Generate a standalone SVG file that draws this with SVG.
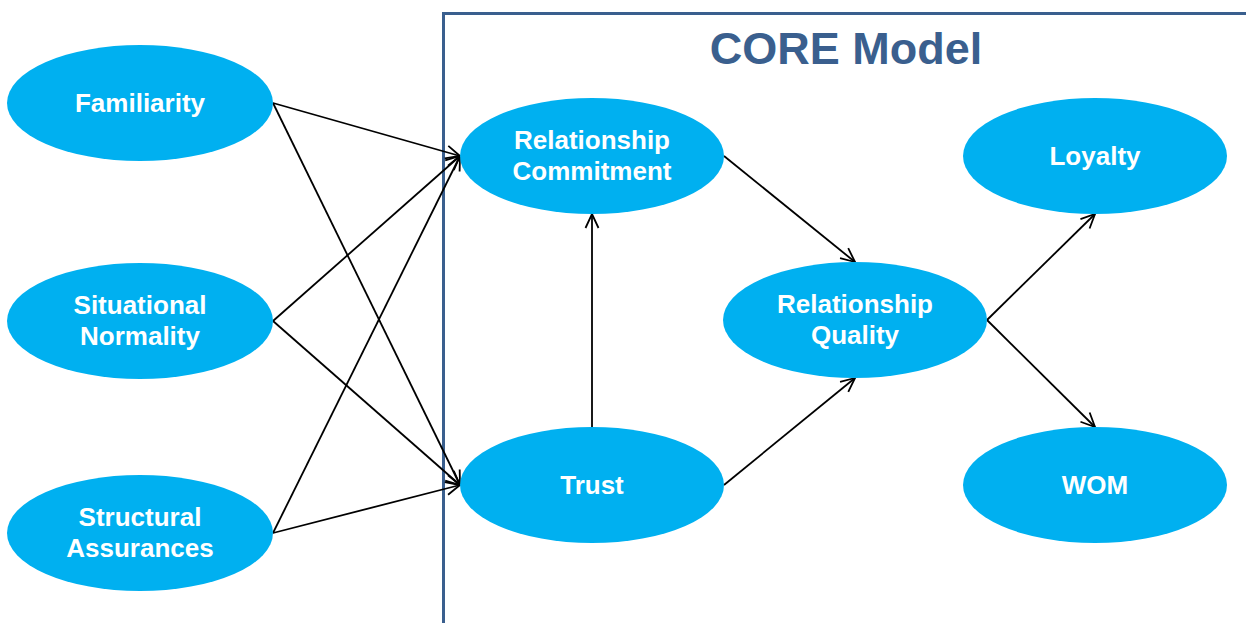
<svg xmlns="http://www.w3.org/2000/svg" width="1246" height="623" viewBox="0 0 1246 623">
  <style>
    .node ellipse { fill: #00B0F0; }
    .node text { fill: #FFFFFF; font-family: "Liberation Sans", Arial, sans-serif; font-weight: bold; font-size: 26px; text-anchor: middle; }
    .edge { stroke: #000000; stroke-width: 1.8; fill: none; marker-end: url(#arrow); }
    .title { fill: #3A5F8E; font-family: "Liberation Sans", Arial, sans-serif; font-weight: bold; font-size: 45px; text-anchor: middle; }
  </style>
  <defs>
    <marker id="arrow" viewBox="0 0 16 16" refX="15" refY="8" markerWidth="16" markerHeight="16" markerUnits="userSpaceOnUse" orient="auto">
      <path d="M1,1.5 L15,8 L1,14.5" fill="none" stroke="#000000" stroke-width="1.8"/>
    </marker>
  </defs>
  <rect width="1246" height="623" fill="#FFFFFF"/>

  <!-- model boundary -->
  <g id="core-box">
    <path d="M443.5,630 L443.5,13.5 L1260,13.5" fill="none" stroke="#3A5F8E" stroke-width="3"/>
    <text class="title" x="846" y="64">CORE Model</text>
  </g>

  <g id="connectors">
    <line class="edge" x1="273" y1="103" x2="460" y2="156"/>
    <line class="edge" x1="273" y1="103" x2="460" y2="485"/>
    <line class="edge" x1="273" y1="321" x2="460" y2="156"/>
    <line class="edge" x1="273" y1="321" x2="460" y2="485"/>
    <line class="edge" x1="273" y1="533" x2="460" y2="156"/>
    <line class="edge" x1="273" y1="533" x2="460" y2="485"/>
    <line class="edge" x1="592" y1="427" x2="592" y2="214"/>
    <line class="edge" x1="724" y1="156" x2="855" y2="262"/>
    <line class="edge" x1="724" y1="485" x2="855" y2="378"/>
    <line class="edge" x1="987" y1="320" x2="1095" y2="214"/>
    <line class="edge" x1="987" y1="320" x2="1095" y2="427"/>
  </g>

  <g id="familiarity" class="node">
    <ellipse cx="140" cy="103" rx="133" ry="58"/>
    <text x="140" y="112">Familiarity</text>
  </g>
  <g id="situational-normality" class="node">
    <ellipse cx="140" cy="321" rx="133" ry="58"/>
    <text x="140" y="314">Situational</text>
    <text x="140" y="345">Normality</text>
  </g>
  <g id="structural-assurances" class="node">
    <ellipse cx="140" cy="533" rx="133" ry="58"/>
    <text x="140" y="526">Structural</text>
    <text x="140" y="557">Assurances</text>
  </g>
  <g id="relationship-commitment" class="node">
    <ellipse cx="592" cy="156" rx="132" ry="58"/>
    <text x="592" y="149">Relationship</text>
    <text x="592" y="180">Commitment</text>
  </g>
  <g id="trust" class="node">
    <ellipse cx="592" cy="485" rx="132" ry="58"/>
    <text x="592" y="494">Trust</text>
  </g>
  <g id="relationship-quality" class="node">
    <ellipse cx="855" cy="320" rx="132" ry="58"/>
    <text x="855" y="313">Relationship</text>
    <text x="855" y="344">Quality</text>
  </g>
  <g id="loyalty" class="node">
    <ellipse cx="1095" cy="156" rx="132" ry="58"/>
    <text x="1095" y="165">Loyalty</text>
  </g>
  <g id="wom" class="node">
    <ellipse cx="1095" cy="485" rx="132" ry="58"/>
    <text x="1095" y="494">WOM</text>
  </g>
</svg>
